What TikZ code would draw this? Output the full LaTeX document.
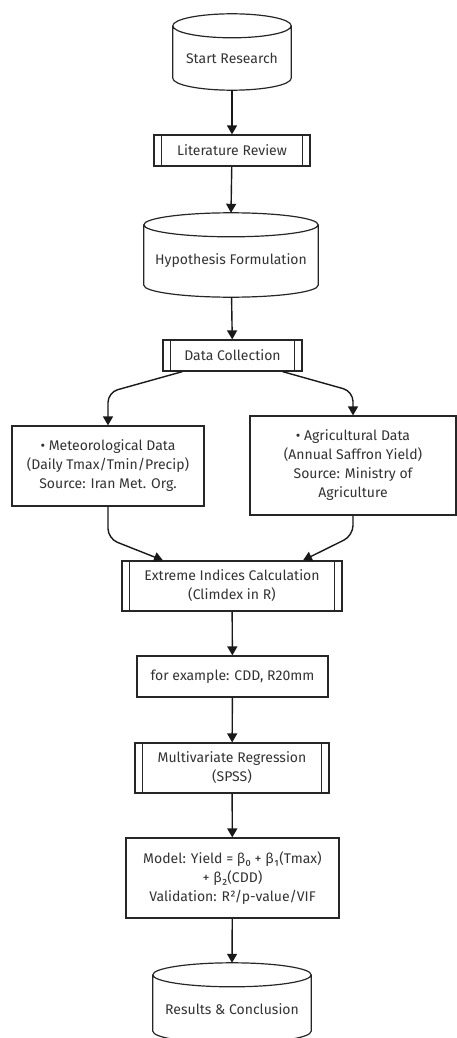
\documentclass[tikz,border=0pt]{standalone}
\usepackage{fontspec}
\setmainfont{Fira Sans}
\usepackage{tikz}
\usetikzlibrary{
    arrows.meta,
    calc,
    positioning
}
\definecolor{inkgray}{HTML}{333333}

\begin{document}
\begin{tikzpicture}[x=1pt, y=-1pt,
        >={Triangle[length=9pt, width=10pt]},
        every node/.style={font=\fontsize{14}{19}\selectfont, text=inkgray, align=center},
        box/.style={rectangle, draw=black!85, line width=1.2pt, fill=white},
        procbox/.style={box, path picture={
            \draw[line width=1.1pt, black!85]
            ([xshift=7.5pt]path picture bounding box.north west) -- ([xshift=7.5pt]path picture bounding box.south west)
            ([xshift=-7.5pt]path picture bounding box.north east) -- ([xshift=-7.5pt]path picture bounding box.south east);}},
        drum/.style={rectangle, inner sep=0pt},
        drumline/.style={draw=black!85, line width=1.2pt},
        flow/.style={->, line width=1.4pt, black!90, rounded corners=10pt}]
                        \useasboundingbox (0, 0) rectangle (457, 1038);
                        \node[drum, minimum width=118, minimum height=64] (start) at (232, 58) {Start Research};
                        \node[procbox, minimum width=156, minimum height=31] (litrev) at (232, 150.5) {Literature Review};
                        \node[drum, minimum width=174, minimum height=72] (hypo) at (231, 261) {Hypothesis Formulation};
                        \node[procbox, minimum width=139, minimum height=31] (datacol) at (232.5, 355.5) {Data Collection};
                        \node[box, minimum width=192, minimum height=80] (metdata) at (108, 466) {• Meteorological Data\\(Daily Tmax/Tmin/Precip)\\Source: Iran Met. Org.};
                        \node[box, minimum width=206, minimum height=99] (agridata) at (353, 465.5) {• Agricultural Data\\(Annual Saffron Yield)\\Source: Ministry of\\Agriculture};
                        \node[procbox, minimum width=220, minimum height=50] (indices) at (232, 586) {Extreme Indices Calculation\\(Climdex in R)};
                        \node[box, minimum width=191, minimum height=41] (example) at (232.5, 676.5) {for example: CDD, R20mm};
                        \node[procbox, minimum width=194, minimum height=50] (regress) at (232, 768) {Multivariate Regression\\(SPSS)};
                        \node[box, minimum width=213, minimum height=80] (model) at (232.5, 878) {Model: Yield = β₀ + β₁(Tmax)\\+ β₂(CDD)\\Validation: R²/p-value/VIF};
                        \node[drum, minimum width=158, minimum height=68] (results) at (232, 1009) {Results \& Conclusion};
                        % drum outlines: side walls, bottom arc, top ellipse
                        \foreach \d in {start, hypo, results}
                            \draw[drumline] let \p1 = (\d.north west), \p2 = (\d.north east), \n1 = {(\x2 - \x1) / 2} in
                            (\d.north west) -- ([yshift=12pt]\d.south west)
                            arc[start angle=180, end angle=360, x radius=\n1, y radius=12pt]
                            -- (\d.north east)
                            arc[start angle=0, end angle=360, x radius=\n1, y radius=12pt];
                        \draw[flow] (start) -- (litrev);
                        \draw[flow] (litrev) -- ([yshift=12pt]hypo.north);
                        \draw[flow] (hypo) -- (datacol);
                        \draw[flow] ([xshift=-50pt]datacol.south) -- ([yshift=33pt]metdata.north) -- (metdata.north);
                        \draw[flow] ([xshift=50pt]datacol.south) -- ([yshift=24pt]agridata.north) -- (agridata.north);
                        \draw[flow] (metdata.south) -- ([yshift=-32pt]metdata.south) -- ([xshift=-69pt]indices.north);
                        \draw[flow] (agridata.south) -- ([yshift=-20pt]agridata.south) -- ([xshift=71pt]indices.north);
                        \draw[flow] (indices) -- (example);
                        \draw[flow] (example) -- (regress);
                        \draw[flow] (regress) -- (model);
                        \draw[flow] (model) -- ([yshift=12pt]results.north);
\end{tikzpicture}
\end{document}
